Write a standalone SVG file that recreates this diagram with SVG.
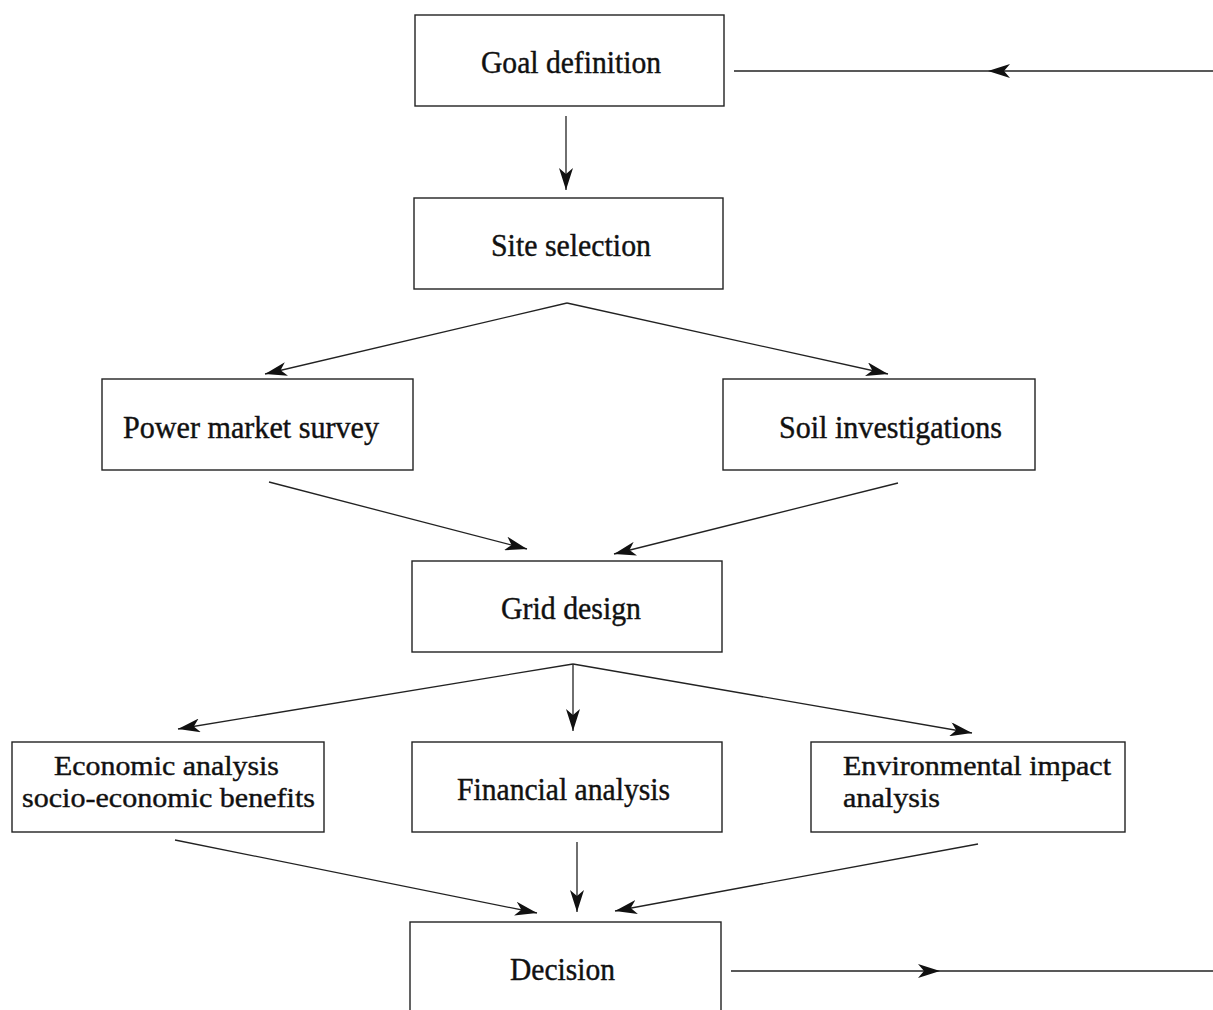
<svg xmlns="http://www.w3.org/2000/svg" width="1213" height="1010" viewBox="0 0 1213 1010">
<defs>
<marker id="ah" viewBox="0 0 22 14" refX="22" refY="7" markerWidth="22" markerHeight="14" markerUnits="userSpaceOnUse" orient="auto">
<path d="M0,0 L22,7 L0,14 L6,7 z" fill="#111"/>
</marker>
<style>
.box{fill:#fff;stroke:#222;stroke-width:1.4}
.lbl{font-family:"Liberation Serif","Times New Roman",serif;font-size:31px;fill:#111;stroke:#111;stroke-width:0.4}
.two{font-size:28px}
.ln{stroke:#222;stroke-width:1.3;fill:none}
.ar{stroke:#222;stroke-width:1.3;fill:none;marker-end:url(#ah)}
</style>
</defs>
<rect width="1213" height="1010" fill="#fff"/>
<g id="connectors">
<line class="ar" x1="1213" y1="71" x2="988" y2="71"/>
<line class="ln" x1="988" y1="71" x2="734" y2="71"/>
<line class="ar" x1="566" y1="116" x2="566" y2="190"/>
<line class="ar" x1="567" y1="303" x2="265" y2="374"/>
<line class="ar" x1="567" y1="303" x2="888" y2="374"/>
<line class="ar" x1="269" y1="482" x2="527" y2="549"/>
<line class="ar" x1="898" y1="483" x2="614" y2="554"/>
<line class="ar" x1="573" y1="664" x2="178" y2="729"/>
<line class="ar" x1="573" y1="664" x2="573" y2="731"/>
<line class="ar" x1="573" y1="664" x2="972" y2="733"/>
<line class="ar" x1="175" y1="840" x2="537" y2="913"/>
<line class="ar" x1="577" y1="842" x2="577" y2="912"/>
<line class="ar" x1="978" y1="844" x2="615" y2="911"/>
<line class="ar" x1="731" y1="971" x2="940" y2="971"/>
<line class="ln" x1="940" y1="971" x2="1213" y2="971"/>
</g>
<g id="goal">
<rect class="box" x="415" y="15" width="309" height="91"/>
<text class="lbl" x="481" y="73" textLength="180" lengthAdjust="spacingAndGlyphs">Goal definition</text>
</g>
<g id="site">
<rect class="box" x="414" y="198" width="309" height="91"/>
<text class="lbl" x="491" y="256" textLength="160" lengthAdjust="spacingAndGlyphs">Site selection</text>
</g>
<g id="power">
<rect class="box" x="102" y="379" width="311" height="91"/>
<text class="lbl" x="123" y="438" textLength="256" lengthAdjust="spacingAndGlyphs">Power market survey</text>
</g>
<g id="soil">
<rect class="box" x="723" y="379" width="312" height="91"/>
<text class="lbl" x="779" y="438" textLength="223" lengthAdjust="spacingAndGlyphs">Soil investigations</text>
</g>
<g id="grid">
<rect class="box" x="412" y="561" width="310" height="91"/>
<text class="lbl" x="501" y="619" textLength="140" lengthAdjust="spacingAndGlyphs">Grid design</text>
</g>
<g id="economic">
<rect class="box" x="12" y="742" width="312" height="90"/>
<text class="lbl two" x="54" y="775" textLength="225" lengthAdjust="spacingAndGlyphs">Economic analysis</text>
<text class="lbl two" x="22" y="807" textLength="293" lengthAdjust="spacingAndGlyphs">socio-economic benefits</text>
</g>
<g id="financial">
<rect class="box" x="412" y="742" width="310" height="90"/>
<text class="lbl" x="457" y="800" textLength="213" lengthAdjust="spacingAndGlyphs">Financial analysis</text>
</g>
<g id="environmental">
<rect class="box" x="811" y="742" width="314" height="90"/>
<text class="lbl two" x="843" y="775" textLength="268" lengthAdjust="spacingAndGlyphs">Environmental impact</text>
<text class="lbl two" x="843" y="807" textLength="97" lengthAdjust="spacingAndGlyphs">analysis</text>
</g>
<g id="decision">
<rect class="box" x="410" y="922" width="311" height="100"/>
<text class="lbl" x="510" y="980" textLength="105" lengthAdjust="spacingAndGlyphs">Decision</text>
</g>
</svg>
